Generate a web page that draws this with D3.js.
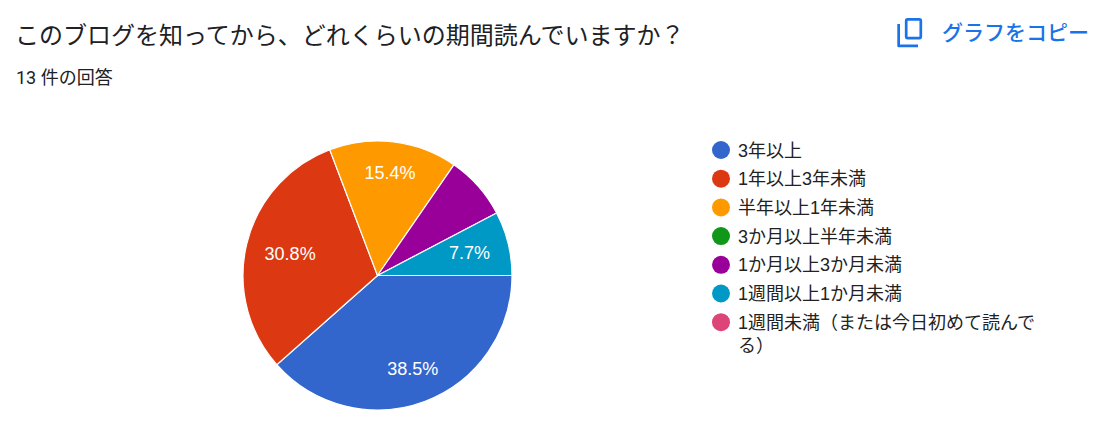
<!DOCTYPE html>
<html lang="ja">
<head>
<meta charset="utf-8">
<script src="https://cdn.jsdelivr.net/npm/d3@7"></script>
<style>
  body { margin: 0; background: #fff; }
  svg { display: block; }
  .title { font-family: Roboto, 'Noto Sans CJK JP', sans-serif; fill: #202124; }
  .chart-text { font-family: Arial, 'Liberation Sans', 'Noto Sans CJK JP', sans-serif; }
</style>
</head>
<body>
<svg id="chart" width="1120" height="422"></svg>
<script>
// 回答データ
const questionTitle = 'このブログを知ってから、どれくらいの期間読んでいますか？';
const responseLabel = '13 件の回答';
const categories = [
    '3年以上',
    '1年以上3年未満',
    '半年以上1年未満',
    '3か月以上半年未満',
    '1か月以上3か月未満',
    '1週間以上1か月未満',
    '1週間未満（または今日初めて読んでる）'
];
const counts = [5, 4, 2, 0, 1, 1, 0];
const sliceColors = ['#3366cc', '#dc3912', '#ff9900', '#109618', '#990099', '#0099c6', '#dd4477'];


const svg = d3.select('#chart');
const W = 1120, H = 422;

//  Header
svg.append('text')
    .attr('class', 'title')
    .attr('x', 15)
    .attr('y', 44)
    .style('font-size', '24px')
    .text(questionTitle);

svg.append('text')
    .attr('class', 'title')
    .attr('x', 16)
    .attr('y', 84)
    .style('font-size', '18px')
    .text(responseLabel);

//  "copy chart" button (icon + label)
const copyBtn = svg.append('g').attr('id', 'copy-btn');
copyBtn.append('rect')
    .attr('x', 906.2).attr('y', 19.3)
    .attr('width', 14.6).attr('height', 18.8)
    .attr('rx', 1.5)
    .attr('fill', 'none')
    .attr('stroke', '#1a73e8')
    .attr('stroke-width', 2.7);
copyBtn.append('path')
    .attr('d', 'M897.3,24 V46 a1.3,1.3 0 0 0 1.3,1.3 H918 V44.6 H900 V24 Z')
    .attr('fill', '#1a73e8');
copyBtn.append('text')
    .attr('class', 'title')
    .attr('x', 942)
    .attr('y', 40)
    .style('font-size', '21px')
    .style('font-weight', 500)
    .style('fill', '#1a73e8')
    .text('グラフをコピー');


//======================================
//  Pie
//======================================
const cx = 377.5, cy = 275.5, radius = 134.5;
const total = d3.sum(counts);
const data = categories.map((c, i) => ({ name: c, value: counts[i], color: sliceColors[i] }));

const pie = d3.pie()
    .value(d => d.value)
    .sort(null)
    .startAngle(Math.PI / 2)
    .endAngle(Math.PI / 2 + 2 * Math.PI);

const arc = d3.arc().innerRadius(0).outerRadius(radius);
const arcs = pie(data);

const pieG = svg.append('g').attr('transform', `translate(${cx},${cy})`);

pieG.selectAll('path')
    .data(arcs.filter(a => a.value > 0))
    .enter()
    .append('path')
    .attr('d', arc)
    .attr('fill', a => a.data.color)
    .attr('stroke', '#fff')
    .attr('stroke-width', 1.2);

//  Slice labels: push the label out until its farthest corner reaches ~0.865r,
//  then only keep it if the whole text box sits inside its wedge
const pct = d3.format('.1%');
const labelFont = 18;
const outerReach = radius * 0.865;
const pad = 4;

function insideWedge(px, py, a0, a1) {
    const dist = Math.hypot(px, py);
    if (dist > radius - pad) return false;
    let ang = Math.atan2(px, -py);
    while (ang < a0) ang += 2 * Math.PI;
    while (ang > a0 + 2 * Math.PI) ang -= 2 * Math.PI;
    if (ang > a1) return false;
    // distance from both radial edges
    const m0 = dist * Math.sin(ang - a0);
    const m1 = dist * Math.sin(a1 - ang);
    return (ang - a0 > Math.PI / 2 || m0 >= pad) && (a1 - ang > Math.PI / 2 || m1 >= pad);
}

arcs.filter(a => a.value > 0).forEach(a => {
    const t = pieG.append('text')
        .attr('class', 'chart-text')
        .attr('text-anchor', 'middle')
        .style('font-size', labelFont + 'px')
        .attr('fill', '#fff')
        .text(pct(a.value / total));

    const hw = t.node().getComputedTextLength() / 2;
    const hh = labelFont * 0.36;
    const mid = (a.startAngle + a.endAngle) / 2;
    const ux = Math.sin(mid), uy = -Math.cos(mid);
    const b = Math.abs(ux) * hw + Math.abs(uy) * hh;
    const c = hw * hw + hh * hh - outerReach * outerReach;
    const dist = -b + Math.sqrt(b * b - c);
    const lx = ux * dist, ly = uy * dist;

    const corners = [[lx - hw, ly - hh], [lx + hw, ly - hh], [lx - hw, ly + hh], [lx + hw, ly + hh]];
    const fits = corners.every(p => insideWedge(p[0], p[1], a.startAngle, a.endAngle));

    if (!fits) { t.remove(); return; }
    t.attr('x', lx).attr('y', ly + hh);
});


//======================================
//  Legend
//======================================
const legendX = 721, legendY = 150;
const rowGap = 28.7, lineGap = 23, wrapWidth = 305;

const legend = svg.append('g').attr('id', 'legend');
let rowY = legendY;

data.forEach(d => {
    legend.append('circle')
        .attr('cx', legendX)
        .attr('cy', rowY)
        .attr('r', 9)
        .attr('fill', d.color);

    const label = legend.append('text')
        .attr('class', 'chart-text')
        .attr('x', legendX + 17)
        .attr('y', rowY + 6.5)
        .style('font-size', '18px')
        .attr('fill', '#222');

    //  simple character wrap
    let line = '';
    let tspan = label.append('tspan').attr('x', legendX + 17);
    let lines = 1;
    for (const ch of d.name) {
        tspan.text(line + ch);
        if (tspan.node().getComputedTextLength() > wrapWidth && line.length) {
            tspan.text(line);
            line = ch;
            tspan = label.append('tspan').attr('x', legendX + 17).attr('dy', lineGap).text(ch);
            lines++;
        } else {
            line += ch;
        }
    }
    rowY += rowGap + (lines - 1) * lineGap;
});
</script>
</body>
</html>
